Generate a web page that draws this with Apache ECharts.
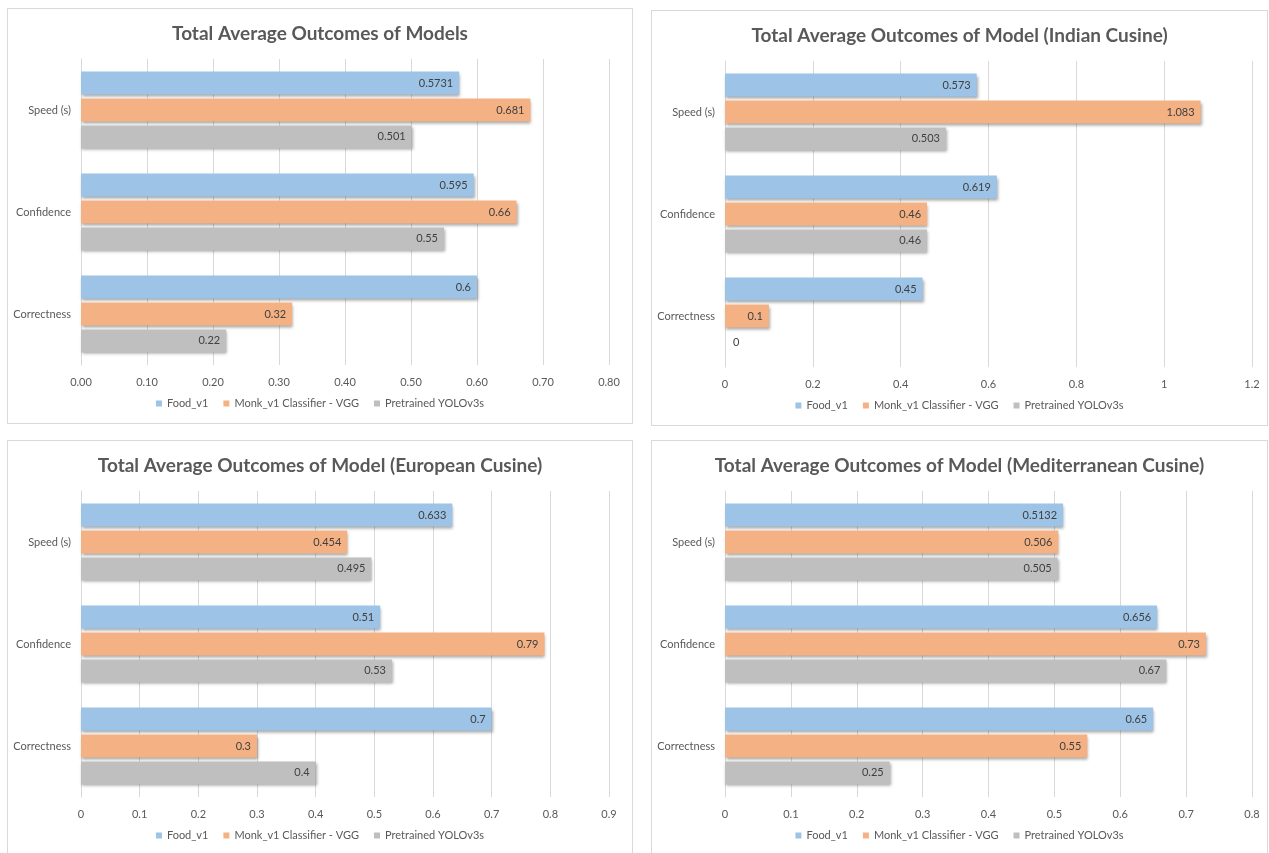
<!DOCTYPE html>
<html>
<head>
<meta charset="utf-8">
<script src="https://cdn.jsdelivr.net/npm/echarts@6/dist/echarts.min.js"></script>
<style>
  body { margin: 0; background: #fff; overflow: hidden; }
  .panel { position: absolute; border: 1px solid #d9d9d9; background: #fff; box-sizing: border-box; }
</style>
</head>
<body>
<div id="p1" class="panel" style="left:7px;top:8px;width:626px;height:416px;"></div>
<div id="p2" class="panel" style="left:651px;top:10px;width:617px;height:416px;"></div>
<div id="p3" class="panel" style="left:7px;top:440px;width:626px;height:416px;"></div>
<div id="p4" class="panel" style="left:651px;top:440px;width:617px;height:416px;"></div>
<script>
// 数据
var categories = ['Speed (s)', 'Confidence', 'Correctness'];
var seriesNames = ['Food_v1', 'Monk_v1 Classifier - VGG', 'Pretrained YOLOv3s'];
var colors = ['#9dc3e6', '#f4b183', '#bfbfbf'];

var allFood = [0.5731, 0.595, 0.6];
var allMonk = [0.681, 0.66, 0.32];
var allYolo = [0.501, 0.55, 0.22];

var indianFood = [0.573, 0.619, 0.45];
var indianMonk = [1.083, 0.46, 0.1];
var indianYolo = [0.503, 0.46, 0];

var europeanFood = [0.633, 0.51, 0.7];
var europeanMonk = [0.454, 0.79, 0.3];
var europeanYolo = [0.495, 0.53, 0.4];

var medFood = [0.5132, 0.656, 0.65];
var medMonk = [0.506, 0.73, 0.55];
var medYolo = [0.505, 0.67, 0.25];

var font = 'Lato, "Liberation Sans", sans-serif';

function toItems(arr) {
    // 0 值的标签放在柱子右边
    return arr.map(function (v) {
        if (v === 0) return { value: v, label: { position: 'right', distance: 8 } };
        return v;
    });
}

function makeOption(title, lists, max, interval, decimals, gridRight) {
    var series = lists.map(function (arr, i) {
        return {
            name: seriesNames[i],
            type: 'bar',
            data: toItems(arr),
            barWidth: 23,
            barGap: '17%',
            itemStyle: {
                color: colors[i],
                shadowColor: 'rgba(0,0,0,0.35)',
                shadowBlur: 3,
                shadowOffsetX: 1,
                shadowOffsetY: 2
            },
            label: {
                show: true,
                position: 'insideRight',
                distance: 6,
                color: '#404040',
                fontSize: 11,
                fontFamily: font
            }
        };
    });
    return {
        animation: false,
        color: colors,
        title: {
            text: title,
            left: 'center',
            top: 10,
            textStyle: { fontSize: 19, fontWeight: 'bold', color: '#595959', fontFamily: font }
        },
        legend: {
            data: seriesNames,
            bottom: 9,
            left: 'center',
            itemWidth: 6,
            itemHeight: 6,
            itemGap: 15,
            icon: 'rect',
            textStyle: { fontSize: 11, color: '#595959', fontFamily: font }
        },
        grid: { left: 73, right: gridRight, top: 50, bottom: 58 },
        xAxis: {
            type: 'value',
            min: 0,
            max: max,
            interval: interval,
            axisLine: { show: false },
            axisTick: { show: false },
            splitLine: { lineStyle: { color: '#d9d9d9' } },
            axisLabel: {
                color: '#595959',
                fontSize: 11,
                fontFamily: font,
                margin: 12,
                formatter: function (v) { return decimals ? v.toFixed(decimals) : String(+v.toFixed(2)); }
            }
        },
        yAxis: {
            type: 'category',
            data: categories,
            inverse: true,
            axisLine: { show: true, lineStyle: { color: '#d9d9d9' } },
            axisTick: { show: false },
            axisLabel: { color: '#595959', fontSize: 11, fontFamily: font, margin: 10 }
        },
        series: series
    };
}

var c1 = echarts.init(document.getElementById('p1'));
c1.setOption(makeOption('Total Average Outcomes of Models', [allFood, allMonk, allYolo], 0.8, 0.1, 2, 23));
var c2 = echarts.init(document.getElementById('p2'));
c2.setOption(makeOption('Total Average Outcomes of Model (Indian Cusine)', [indianFood, indianMonk, indianYolo], 1.2, 0.2, 0, 15));
var c3 = echarts.init(document.getElementById('p3'));
c3.setOption(makeOption('Total Average Outcomes of Model (European Cusine)', [europeanFood, europeanMonk, europeanYolo], 0.9, 0.1, 0, 23));
var c4 = echarts.init(document.getElementById('p4'));
c4.setOption(makeOption('Total Average Outcomes of Model (Mediterranean Cusine)', [medFood, medMonk, medYolo], 0.8, 0.1, 0, 15));
</script>
</body>
</html>
